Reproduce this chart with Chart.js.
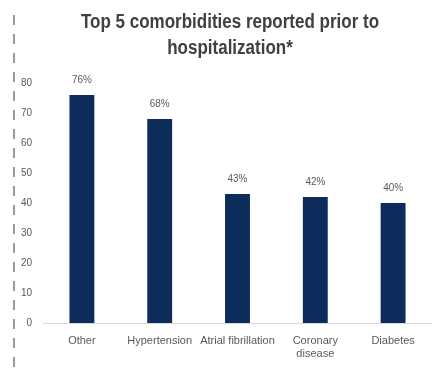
<!DOCTYPE html>
<html>
<head>
<meta charset="utf-8">
<script src="https://cdn.jsdelivr.net/npm/chart.js@4/dist/chart.umd.min.js"></script>
<style>
  html, body { margin: 0; padding: 0; background: #ffffff; }
  #wrap { width: 432px; height: 368px; position: relative; }
</style>
</head>
<body>
<div id="wrap"><canvas id="chart" width="432" height="368"></canvas></div>
<script>
// Comorbidities and share of patients (%)
const categories = ['Other', 'Hypertension', 'Atrial fibrillation', ['Coronary', 'disease'], 'Diabetes'];
const percentValues = [76, 68, 43, 42, 40];
const yTicks = [0, 10, 20, 30, 40, 50, 60, 70, 80];
const titleLines = ['Top 5 comorbidities reported prior to', 'hospitalization*'];

const SANS = '"Liberation Sans", Arial, sans-serif';

// dashed separator running down the left edge
const leftRule = {
  id: 'leftRule',
  beforeDraw(chart) {
    const ctx = chart.ctx;
    ctx.save();
    ctx.strokeStyle = '#9a9a9a';
    ctx.lineWidth = 2;
    ctx.setLineDash([10, 9]);
    ctx.beginPath();
    ctx.moveTo(14, 15);
    ctx.lineTo(14, 368);
    ctx.stroke();
    ctx.restore();
  }
};

// condensed bold heading, two lines
const heading = {
  id: 'heading',
  afterDraw(chart) {
    const ctx = chart.ctx;
    ctx.save();
    ctx.fillStyle = '#404040';
    ctx.font = 'bold 20px ' + SANS;
    ctx.textAlign = 'center';
    ctx.textBaseline = 'alphabetic';
    const cx = 230, squeeze = 0.85;
    const baselines = [28, 54];
    titleLines.forEach((line, i) => {
      ctx.save();
      ctx.translate(cx, baselines[i]);
      ctx.scale(squeeze, 1);
      ctx.fillText(line, 0, 0);
      ctx.restore();
    });
    ctx.restore();
  }
};

// percentage labels above each bar
const valueLabels = {
  id: 'valueLabels',
  afterDatasetsDraw(chart) {
    const ctx = chart.ctx;
    const meta = chart.getDatasetMeta(0);
    ctx.save();
    ctx.fillStyle = '#595959';
    ctx.font = '11px ' + SANS;
    ctx.textAlign = 'center';
    ctx.textBaseline = 'middle';
    meta.data.forEach((bar, i) => {
      ctx.save();
      ctx.translate(bar.x, bar.y - 15);
      ctx.scale(0.9, 1);
      ctx.fillText(percentValues[i] + '%', 0, 0);
      ctx.restore();
    });
    ctx.restore();
  }
};

new Chart(document.getElementById('chart'), {
  type: 'bar',
  data: {
    labels: categories,
    datasets: [{
      data: percentValues,
      backgroundColor: '#0c2d5c',
      borderWidth: 0,
      barPercentage: 0.32,
      categoryPercentage: 1
    }]
  },
  options: {
    responsive: false,
    animation: false,
    layout: { padding: { top: 83, right: 0, bottom: 0, left: 0 } },
    plugins: {
      legend: { display: false },
      tooltip: { enabled: false },
      title: { display: false }
    },
    scales: {
      x: {
        grid: { display: false, drawTicks: false },
        border: { display: true, color: '#d9d9d9', width: 1 },
        ticks: {
          color: '#595959',
          font: { family: SANS, size: 11, lineHeight: 1.2 },
          padding: 11,
          maxRotation: 0,
          autoSkip: false
        },
        afterFit(scale) { scale.height = 45; }
      },
      y: {
        min: 0,
        max: 80,
        grid: { display: false, drawTicks: false },
        border: { display: false },
        afterBuildTicks(scale) { scale.ticks = yTicks.map(v => ({ value: v })); },
        ticks: {
          color: '#595959',
          font: { family: SANS, size: 10 },
          padding: 11
        },
        afterFit(scale) { scale.width = 43; }
      }
    }
  },
  plugins: [leftRule, heading, valueLabels]
});
</script>
</body>
</html>
